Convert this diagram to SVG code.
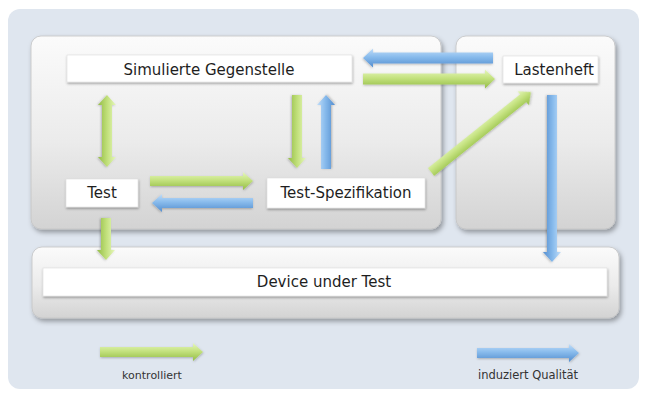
<svg xmlns="http://www.w3.org/2000/svg" width="646" height="394" viewBox="0 0 646 394">
  <defs>
    <linearGradient id="panelFill" x1="0" y1="0" x2="0" y2="1">
      <stop offset="0" stop-color="#fbfbfb"/>
      <stop offset="0.55" stop-color="#ebebeb"/>
      <stop offset="1" stop-color="#d3d3d3"/>
    </linearGradient>
    <linearGradient id="greenFill" x1="0" y1="0" x2="0" y2="1">
      <stop offset="0" stop-color="#e6f6bd"/>
      <stop offset="0.45" stop-color="#c4e27f"/>
      <stop offset="1" stop-color="#93bc45"/>
    </linearGradient>
    <linearGradient id="blueFill" x1="0" y1="0" x2="0" y2="1">
      <stop offset="0" stop-color="#c0ddf9"/>
      <stop offset="0.45" stop-color="#88bbec"/>
      <stop offset="1" stop-color="#538dcf"/>
    </linearGradient>
    <filter id="panelShadow" x="-5%" y="-10%" width="112%" height="130%">
      <feDropShadow dx="2" dy="3" stdDeviation="2.5" flood-color="#000" flood-opacity="0.35"/>
    </filter>
    <filter id="boxShadow" x="-5%" y="-20%" width="110%" height="150%">
      <feDropShadow dx="0.5" dy="1.5" stdDeviation="1" flood-color="#000" flood-opacity="0.35"/>
    </filter>
    <filter id="arrowShadow" x="-10%" y="-30%" width="120%" height="160%">
      <feDropShadow dx="0.5" dy="1" stdDeviation="0.8" flood-color="#000" flood-opacity="0.25"/>
    </filter>
  </defs>
  <style>
    .panel { fill: url(#panelFill); stroke: #c4c4c4; stroke-width: 0.8; filter: url(#panelShadow); }
    .box { fill: #ffffff; stroke: #dcdcdc; stroke-width: 0.6; filter: url(#boxShadow); }
    .label { font-family: "DejaVu Sans", "Liberation Sans", sans-serif; font-size: 15px; fill: #1e1e1e; text-anchor: middle; }
    .legend { font-family: "DejaVu Sans", "Liberation Sans", sans-serif; font-size: 11px; fill: #333; text-anchor: middle; }
    .green { fill: url(#greenFill); filter: url(#arrowShadow); }
    .blue { fill: url(#blueFill); filter: url(#arrowShadow); }
  </style>

  <!-- backdrop -->
  <rect x="0" y="0" width="646" height="394" fill="#ffffff"/>
  <rect x="8" y="9" width="631" height="380" rx="12" fill="#dfe6ef"/>

  <!-- containers -->
  <g id="panel-left">
    <rect class="panel" x="31" y="36" width="410" height="193" rx="10"/>
  </g>
  <g id="panel-right">
    <rect class="panel" x="456" y="36" width="159" height="193" rx="10"/>
  </g>
  <g id="panel-device">
    <rect class="panel" x="32" y="247" width="587" height="71" rx="10"/>
  </g>

  <!-- nodes -->
  <g id="simulierte-gegenstelle">
    <rect class="box" x="67" y="55" width="285" height="27"/>
    <text class="label" x="209" y="75">Simulierte Gegenstelle</text>
  </g>
  <g id="lastenheft">
    <rect class="box" x="503" y="56" width="95" height="27"/>
    <text class="label" x="554" y="75">Lastenheft</text>
  </g>
  <g id="test">
    <rect class="box" x="66" y="179" width="72" height="28"/>
    <text class="label" x="102" y="198">Test</text>
  </g>
  <g id="test-spezifikation">
    <rect class="box" x="267" y="178" width="158" height="30"/>
    <text class="label" x="346" y="198">Test-Spezifikation</text>
  </g>
  <g id="device-under-test">
    <rect class="box" x="43" y="268" width="564" height="28"/>
    <text class="label" x="324" y="287">Device under Test</text>
  </g>

  <!-- connectors: each arrow drawn along +x, then placed -->
  <g id="connectors">
    <!-- Simulierte Gegenstelle <-> Test -->
    <polygon class="green" transform="translate(107,95) rotate(90)" points="0,0 10,-9 10,-5 62,-5 62,-9 72,0 62,9 62,5 10,5 10,9"/>
    <!-- Simulierte Gegenstelle -> Test-Spezifikation -->
    <polygon class="green" transform="translate(297,95) rotate(90)" points="0,-5 63,-5 63,-9 73,0 63,9 63,5 0,5"/>
    <!-- Test-Spezifikation -> Simulierte Gegenstelle -->
    <polygon class="blue" transform="translate(326,169) rotate(-90)" points="0,-5 64,-5 64,-9 74,0 64,9 64,5 0,5"/>
    <!-- Test -> Test-Spezifikation -->
    <polygon class="green" transform="translate(150,181)" points="0,-5 93,-5 93,-9 103,0 93,9 93,5 0,5"/>
    <!-- Test-Spezifikation -> Test -->
    <polygon class="blue" transform="translate(253,203) scale(-1,1)" points="0,-5 91,-5 91,-9 101,0 91,9 91,5 0,5"/>
    <!-- Lastenheft -> Simulierte Gegenstelle -->
    <polygon class="blue" transform="translate(493,58) scale(-1,1)" points="0,-5.5 120,-5.5 120,-9.5 130,0 120,9.5 120,5.5 0,5.5"/>
    <!-- Simulierte Gegenstelle -> Lastenheft -->
    <polygon class="green" transform="translate(363,79)" points="0,-5.5 122,-5.5 122,-9.5 132,0 122,9.5 122,5.5 0,5.5"/>
    <!-- Test-Spezifikation -> Lastenheft -->
    <polygon class="green" transform="translate(431,172) rotate(-38.66)" points="0,-5 118,-5 118,-9 128,0 118,9 118,5 0,5"/>
    <!-- Lastenheft -> Device under Test -->
    <polygon class="blue" transform="translate(552,95) rotate(90)" points="0,-5 157,-5 157,-9 167,0 157,9 157,5 0,5"/>
    <!-- Test -> Device under Test -->
    <polygon class="green" transform="translate(106,218) rotate(90)" points="0,-5 32,-5 32,-9 42,0 32,9 32,5 0,5"/>
  </g>

  <!-- legend -->
  <g id="legend-kontrolliert">
    <polygon class="green" transform="translate(100,352)" points="0,-5 93,-5 93,-9 103,0 93,9 93,5 0,5"/>
    <text class="legend" x="152" y="379">kontrolliert</text>
  </g>
  <g id="legend-induziert">
    <polygon class="blue" transform="translate(477,353)" points="0,-5 92,-5 92,-9 102,0 92,9 92,5 0,5"/>
    <text class="legend" x="528" y="379" style="font-size:11.5px">induziert Qualität</text>
  </g>
</svg>
